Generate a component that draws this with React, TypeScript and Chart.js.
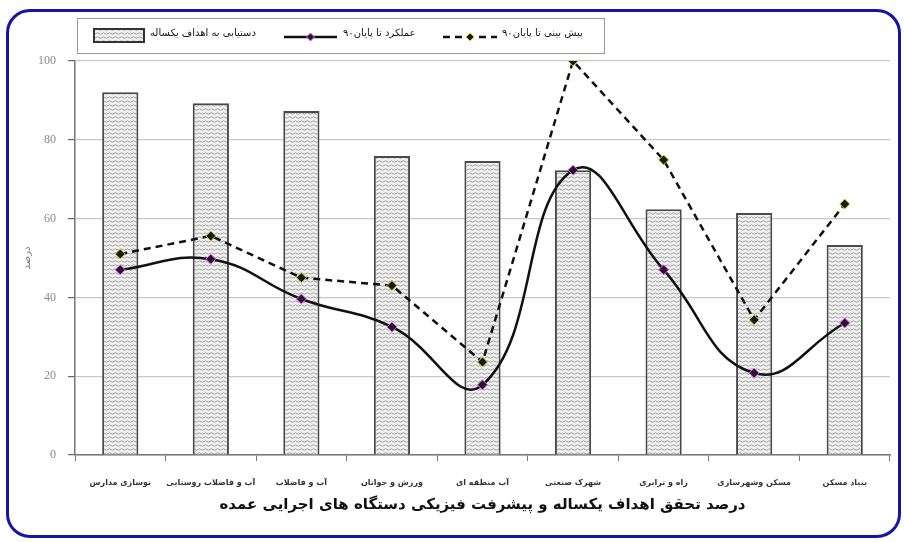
import { useEffect, useRef } from "react";
import { Chart, registerables } from "chart.js";
Chart.register(...registerables);

const categories = [
  "نوسازی مدارس",
  "آب و فاضلاب روستایی",
  "آب و فاضلاب",
  "ورزش و جوانان",
  "آب منطقه ای",
  "شهرک صنعتی",
  "راه و ترابری",
  "مسکن وشهرسازی",
  "بنیاد مسکن",
];
const achievement = [92.1, 89.3, 87.3, 75.9, 74.6, 72.3, 62.4, 61.4, 53.3];
const performance = [47, 49.7, 39.6, 32.5, 17.8, 72.3, 47, 20.8, 33.5];
const forecast = [51, 55.6, 45, 43, 23.6, 100, 74.9, 34.3, 63.7];
const yTicks = [0, 20, 40, 60, 80, 100];
const seriesLabels = ["دستیابی به اهداف یکساله", "عملکرد تا پایان۹۰", "پیش بینی تا پایان۹۰"];
const xTitle = "درصد تحقق اهداف یکساله و پیشرفت فیزیکی دستگاه های اجرایی عمده";
const yTitle = "درصد";

function makePattern(): CanvasPattern | string {
  const c = document.createElement("canvas");
  c.width = 6;
  c.height = 4;
  const g = c.getContext("2d");
  if (!g) return "#ddd";
  g.fillStyle = "#f0f0f0";
  g.fillRect(0, 0, 6, 4);
  g.strokeStyle = "#a0a0a0";
  g.lineWidth = 1;
  g.beginPath();
  g.moveTo(0, 1.5);
  g.lineTo(1.5, 0.8);
  g.lineTo(3, 1.5);
  g.lineTo(4.5, 2.2);
  g.lineTo(6, 1.5);
  g.stroke();
  const p = g.createPattern(c, "repeat");
  return p || "#ddd";
}

const legendPlugin = {
  id: "boxLegend",
  afterDraw(chart: any) {
    const ctx = chart.ctx as CanvasRenderingContext2D;
    const ds = chart.data.datasets;
    ctx.save();
    ctx.strokeStyle = "#9a9a9a";
    ctx.lineWidth = 1;
    ctx.strokeRect(77.5, 18.5, 527, 35);
    ctx.font = "10px 'DejaVu Sans'";
    ctx.textBaseline = "middle";
    const cy = 35;
    ctx.fillStyle = ds[0].backgroundColor;
    ctx.fillRect(94, 29, 50, 13);
    ctx.strokeStyle = "#333";
    ctx.lineWidth = 2;
    ctx.strokeRect(94, 29, 50, 13);
    ctx.fillStyle = "#111";
    ctx.textAlign = "left";
    ctx.fillText(ds[0].label, 150, cy - 2);
    const drawLine = (x0: number, x1: number, d: any) => {
      ctx.strokeStyle = d.borderColor;
      ctx.lineWidth = d.borderWidth;
      ctx.setLineDash(d.borderDash || []);
      ctx.beginPath();
      ctx.moveTo(x0, cy + 2);
      ctx.lineTo(x1, cy + 2);
      ctx.stroke();
      ctx.setLineDash([]);
      const mx = (x0 + x1) / 2;
      const r = 4;
      ctx.beginPath();
      ctx.moveTo(mx, cy + 2 - r);
      ctx.lineTo(mx + r, cy + 2);
      ctx.lineTo(mx, cy + 2 + r);
      ctx.lineTo(mx - r, cy + 2);
      ctx.closePath();
      ctx.fillStyle = d.pointBackgroundColor;
      ctx.fill();
      ctx.strokeStyle = d.pointBorderColor;
      ctx.lineWidth = 1;
      ctx.stroke();
    };
    drawLine(284, 337, ds[1]);
    ctx.fillStyle = "#111";
    ctx.fillText(ds[1].label, 343, cy - 2);
    drawLine(443, 497, ds[2]);
    ctx.fillStyle = "#111";
    ctx.fillText(ds[2].label, 502, cy - 2);
    ctx.restore();
  },
};

export default function App() {
  const ref = useRef<HTMLCanvasElement>(null);
  useEffect(() => {
    if (!ref.current) return;
    const pattern = makePattern();
    const chart = new Chart(ref.current, {
      type: "bar",
      data: {
        labels: categories,
        datasets: [
          {
            type: "bar",
            label: seriesLabels[0],
            data: achievement,
            backgroundColor: pattern as any,
            borderColor: "#4a4a4a",
            borderWidth: 2,
            barPercentage: 0.4,
            categoryPercentage: 1,
            order: 3,
          },
          {
            type: "line",
            label: seriesLabels[1],
            data: performance,
            borderColor: "#111",
            borderWidth: 2.5,
            tension: 0.45,
            pointStyle: "rectRot",
            pointRadius: 5,
            pointBackgroundColor: "#3a0840",
            pointBorderColor: "#b880c0",
            pointBorderWidth: 1,
            order: 1,
          } as any,
          {
            type: "line",
            label: seriesLabels[2],
            data: forecast,
            borderColor: "#111",
            borderWidth: 2.5,
            borderDash: [7, 5],
            tension: 0,
            pointStyle: "rectRot",
            pointRadius: 5,
            pointBackgroundColor: "#1a1a08",
            pointBorderColor: "#d0d040",
            pointBorderWidth: 1,
            order: 2,
          } as any,
        ],
      },
      options: {
        responsive: false,
        animation: false,
        layout: { padding: { top: 61, right: 14, bottom: 0, left: 0 } },
        plugins: { legend: { display: false }, tooltip: { enabled: false }, title: { display: false } },
        scales: {
          x: {
            offset: true,
            grid: {
              display: true,
              drawOnChartArea: false,
              drawTicks: true,
              tickLength: 6,
              color: "#777",
            },
            border: { color: "#777", width: 1.5 },
            ticks: {
              autoSkip: false,
              maxRotation: 0,
              padding: 17,
              color: "#333",
              font: { family: "'DejaVu Sans'", size: 8, weight: "bold" },
            },
            title: {
              display: true,
              text: xTitle,
              color: "#111",
              font: { family: "'DejaVu Sans'", size: 15, weight: "bold" },
              padding: { top: 0, bottom: 28 },
            },
            afterFit(scale: any) {
              scale.height = 87;
            },
          },
          y: {
            min: 0,
            max: 100,
            afterBuildTicks(scale: any) {
              scale.ticks = yTicks.map((v) => ({ value: v }));
            },
            grid: {
              color: "#c8c8c8",
              lineWidth: 1.2,
              tickColor: "#666",
              tickLength: 7,
            },
            border: { color: "#777", width: 1.5 },
            ticks: {
              padding: 12,
              color: "#888",
              font: { family: "'Liberation Serif'", size: 12 },
            },
            title: {
              display: true,
              text: yTitle,
              color: "#777",
              font: { family: "'DejaVu Sans'", size: 10 },
              padding: { top: 21, bottom: 0 },
            },
            afterFit(scale: any) {
              scale.width = 75;
            },
          },
        },
      },
      plugins: [legendPlugin],
    });
    return () => chart.destroy();
  }, []);
  return (
    <div style={{ position: "fixed", left: 0, top: 0, width: 904, height: 542, background: "#fff" }}>
      <div
        style={{
          position: "absolute",
          left: 6,
          top: 9,
          width: 895,
          height: 529,
          border: "3px solid #1515a5",
          borderRadius: 24,
          boxSizing: "border-box",
        }}
      />
      <canvas ref={ref} width={904} height={542} style={{ position: "absolute", left: 0, top: 0 }} />
    </div>
  );
}
